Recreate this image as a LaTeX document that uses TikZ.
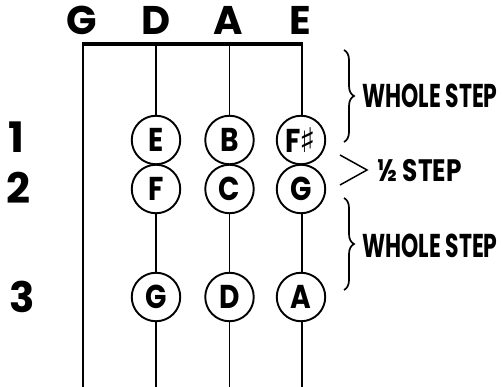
\documentclass[tikz,border=0pt]{standalone}
\usepackage{fontspec}
\setmainfont{Poppins}
\newfontfamily\narrowfont{Poppins}[FakeStretch=0.665]
\newfontfamily\halffont{Poppins}[FakeStretch=0.8]
\newfontfamily\notefont{Poppins}[FakeStretch=0.85]
\newfontfamily\symfont{DejaVu Sans}
\usetikzlibrary{decorations.pathreplacing}
\begin{document}
\begin{tikzpicture}[x=1pt,y=-1pt,
  stringname/.style={font=\fontsize{40}{40}\selectfont\bfseries, anchor=base, inner sep=0pt},
  fretnum/.style={font=\fontsize{42}{42}\selectfont\bfseries, inner sep=0pt},
  note/.style={circle, draw, line width=1.9pt, fill=white, minimum size=48.5pt, inner sep=0pt,
    font=\notefont\fontsize{33}{33}\selectfont\bfseries},
  steptext/.style={font=\narrowfont\fontsize{33}{33}\selectfont\bfseries, anchor=west, inner sep=0pt},
  halftext/.style={font=\halffont\fontsize{31}{31}\selectfont\bfseries, anchor=west, inner sep=0pt},
  stringline/.style={line width=1.3pt},
  nutline/.style={line width=4.5pt},
  bracket/.style={line width=1.7pt, decorate, decoration={brace, amplitude=10pt}}
]
\useasboundingbox (0,0) rectangle (503,387);

% string names above the nut
\node[stringname] (nG) at (82,35) {G};
\node[stringname] (nD) at (156,35) {D};
\node[stringname] (nA) at (228,35) {A};
\node[stringname] (nE) at (300,35) {E};

% nut ends and string ends
\coordinate (tG) at (83,44);
\coordinate (tD) at (156,44);
\coordinate (tA) at (229.5,44);
\coordinate (tE) at (302,44);
\coordinate (bG) at (83,387);
\coordinate (bD) at (156,387);
\coordinate (bA) at (229.5,387);
\coordinate (bE) at (302,387);

% strings
\draw[stringline] (tG) -- (bG);
\draw[stringline] (tD) -- (bD);
\draw[stringline] (tA) -- (bA);
\draw[stringline] (tE) -- (bE);

% nut
\draw[nutline] ([xshift=-1pt]tG) -- ([xshift=1pt]tE);

% finger numbers
\node[fretnum] (f1) at (16,137) {1};
\node[fretnum] (f2) at (18,188) {2};
\node[fretnum] (f3) at (22,297) {3};

% notes
\node[note] (e1) at (156,140) {E};
\node[note] (b1) at (229.5,140) {B};
\node[note] (fs1) at (301,140) {F\kern-1pt{\symfont\fontsize{34}{34}\selectfont\bfseries ♯}};
\node[note] (f2n) at (156,189) {F};
\node[note] (c2) at (229.5,189) {C};
\node[note] (g2) at (301,189) {G};
\node[note] (g3) at (156,297) {G};
\node[note] (d3) at (229.5,297) {D};
\node[note] (a3) at (301,297) {A};

% interval markings
\coordinate (br1a) at (344,50);
\coordinate (br1b) at (344,142);
\coordinate (br2a) at (344,198);
\coordinate (br2b) at (344,290);
\draw[bracket] (br1a) -- (br1b);
\draw[bracket] (br2a) -- (br2b);
\coordinate (ha) at (340,155);
\coordinate (hb) at (367,170);
\coordinate (hc) at (340,185);
\draw[line width=1.5pt] (ha) -- (hb) -- (hc);

\node[steptext] (w1) at (362,96) {WHOLE STEP};
\node[halftext] (h1) at (377,171) {½ STEP};
\node[steptext] (w2) at (362,246) {WHOLE STEP};
\end{tikzpicture}
\end{document}
